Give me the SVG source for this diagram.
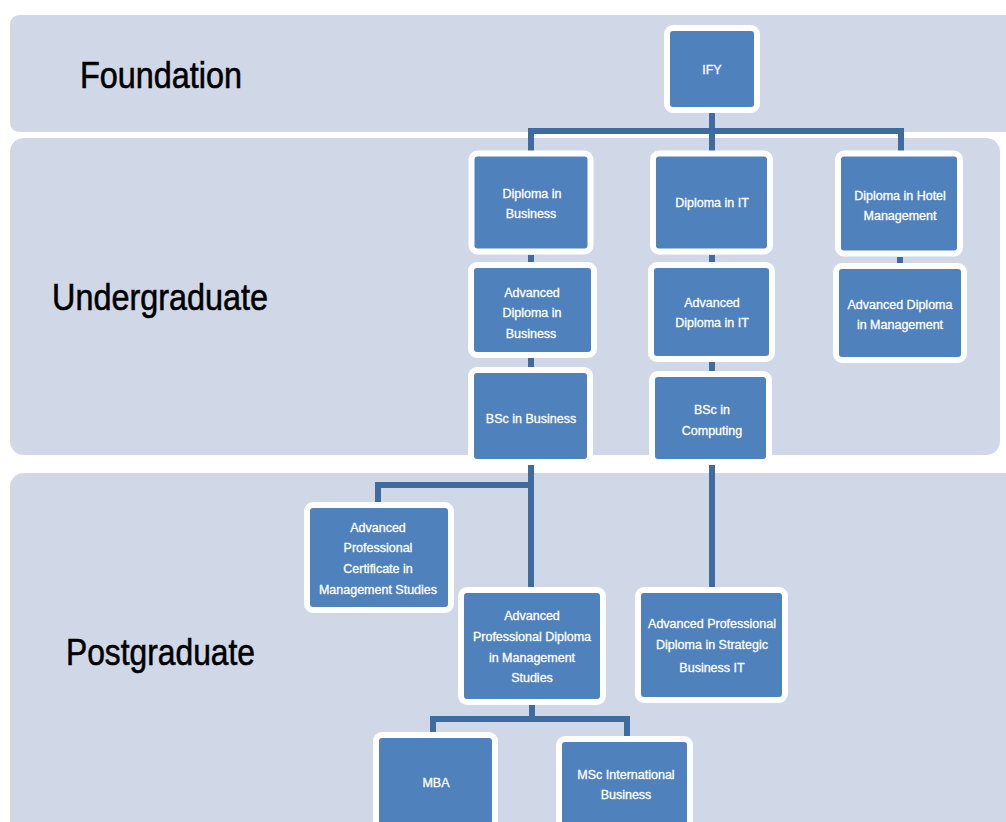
<svg xmlns="http://www.w3.org/2000/svg" width="1006" height="822" viewBox="0 0 1006 822">
  <style>
    .band { fill: #D0D8E8; }
    .level { font-family: "Liberation Sans", Arial, sans-serif; font-size: 37px; fill: #000; stroke: #000; stroke-width: 0.6; }
    .box { fill: #4F81BD; stroke: #FFFFFF; stroke-width: 6; }
    .label { font-family: "Liberation Sans", Arial, sans-serif; font-size: 12.5px; fill: #FFFFFF; stroke: #FFFFFF; stroke-width: 0.3; text-anchor: middle; }
    .link { fill: none; stroke: #3F6B9E; stroke-width: 6; stroke-linejoin: miter; }
  </style>
  <rect width="1006" height="822" fill="#FFFFFF"/>

  <!-- level bands -->
  <g id="bands">
    <rect class="band" x="10" y="15" width="1010" height="117" rx="9"/>
    <rect class="band" x="10" y="138" width="990" height="317" rx="14"/>
    <rect class="band" x="10" y="473" width="1010" height="370" rx="14"/>
    <text class="level" x="80" y="88" textLength="162" lengthAdjust="spacingAndGlyphs">Foundation</text>
    <text class="level" x="52" y="310" textLength="216" lengthAdjust="spacingAndGlyphs">Undergraduate</text>
    <text class="level" x="66" y="665" textLength="189" lengthAdjust="spacingAndGlyphs">Postgraduate</text>
  </g>

  <!-- connectors -->
  <g id="connectors">
    <path class="link" d="M712 110 V131 M531 153 V131 H901 V153 M712 131 V153"/>
    <path class="link" d="M531 255 V265"/>
    <path class="link" d="M712 255 V265"/>
    <path class="link" d="M900 257 V266"/>
    <path class="link" d="M531 358 V370"/>
    <path class="link" d="M712 362 V374"/>
    <path class="link" d="M531 465 V590 M531 485 H378 V505"/>
    <path class="link" d="M712 465 V590"/>
    <path class="link" d="M532 705 V719 M433 735 V719 H627 V739"/>
  </g>

  <!-- nodes -->
  <g id="ify">
    <rect class="box" x="667" y="28" width="90" height="82" rx="6"/>
    <text class="label" x="712" y="73.5">IFY</text>
  </g>
  <g id="diploma-business">
    <rect class="box" x="471.5" y="153.5" width="119" height="98" rx="6"/>
    <text class="label" x="532" y="197.5">Diploma in</text>
    <text class="label" x="531" y="217.5">Business</text>
  </g>
  <g id="diploma-it">
    <rect class="box" x="653" y="153.5" width="117" height="98" rx="6"/>
    <text class="label" x="712" y="206.5">Diploma in IT</text>
  </g>
  <g id="diploma-hotel">
    <rect class="box" x="838" y="153.5" width="122" height="100" rx="6"/>
    <text class="label" x="900" y="199.5">Diploma in Hotel</text>
    <text class="label" x="900" y="219.5">Management</text>
  </g>
  <g id="adv-diploma-business">
    <rect class="box" x="471" y="265" width="123" height="90" rx="6"/>
    <text class="label" x="532" y="296.5">Advanced</text>
    <text class="label" x="532" y="316.5">Diploma in</text>
    <text class="label" x="531" y="337.5">Business</text>
  </g>
  <g id="adv-diploma-it">
    <rect class="box" x="651" y="265" width="121" height="94" rx="6"/>
    <text class="label" x="712" y="306.5">Advanced</text>
    <text class="label" x="712" y="326.5">Diploma in IT</text>
  </g>
  <g id="adv-diploma-management">
    <rect class="box" x="836" y="266" width="128" height="94" rx="6"/>
    <text class="label" x="900" y="308.5">Advanced Diploma</text>
    <text class="label" x="900" y="328.5">in Management</text>
  </g>
  <g id="bsc-business">
    <rect class="box" x="471" y="370" width="119" height="92" rx="6"/>
    <text class="label" x="531" y="422.5">BSc in Business</text>
  </g>
  <g id="bsc-computing">
    <rect class="box" x="652" y="374" width="117" height="88" rx="6"/>
    <text class="label" x="712" y="413.5">BSc in</text>
    <text class="label" x="712" y="434.5">Computing</text>
  </g>
  <g id="apc-management">
    <rect class="box" x="307" y="505" width="144" height="105" rx="6"/>
    <text class="label" x="378" y="531.5">Advanced</text>
    <text class="label" x="378" y="551.5">Professional</text>
    <text class="label" x="378" y="572.5">Certificate in</text>
    <text class="label" x="378" y="593.5">Management Studies</text>
  </g>
  <g id="apd-management">
    <rect class="box" x="461" y="590" width="142" height="112" rx="6"/>
    <text class="label" x="532" y="619.5">Advanced</text>
    <text class="label" x="532" y="640.5">Professional Diploma</text>
    <text class="label" x="532" y="661.5">in Management</text>
    <text class="label" x="532" y="681.5">Studies</text>
  </g>
  <g id="apd-strategic-it">
    <rect class="box" x="638" y="590" width="147" height="110" rx="6"/>
    <text class="label" x="712" y="627.5">Advanced Professional</text>
    <text class="label" x="712" y="648.5">Diploma in Strategic</text>
    <text class="label" x="712" y="671.5">Business IT</text>
  </g>
  <g id="mba">
    <rect class="box" x="376" y="735" width="119" height="100" rx="6"/>
    <text class="label" x="436" y="786.5">MBA</text>
  </g>
  <g id="msc-international">
    <rect class="box" x="559" y="739" width="131" height="100" rx="6"/>
    <text class="label" x="626" y="778.5">MSc International</text>
    <text class="label" x="626" y="798.5">Business</text>
  </g>
</svg>
